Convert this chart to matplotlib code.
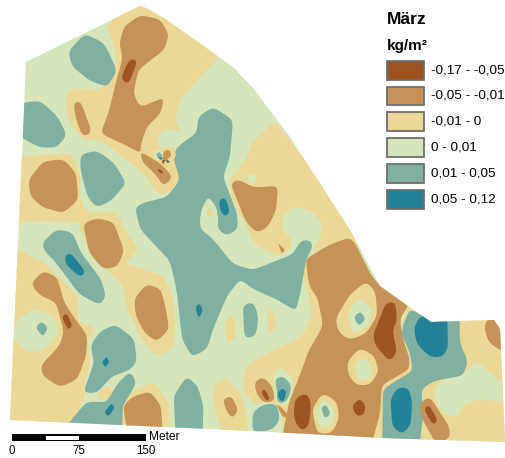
import numpy as np
import matplotlib
matplotlib.use("Agg")
import matplotlib.pyplot as plt
from matplotlib.patches import Polygon, Rectangle

plt.rcParams['font.family'] = ['Liberation Sans', 'DejaVu Sans']

TITLE = "März"
UNIT = "kg/m²"
CLASS_LABELS = ["-0,17 - -0,05", "-0,05 - -0,01", "-0,01 - 0", "0 - 0,01", "0,01 - 0,05", "0,05 - 0,12"]
CLASS_COLORS = ["#9C5520", "#C49355", "#ECD896", "#D6E6BA", "#7FB0A2", "#238295"]
DB, BR, YE, GR, TE, DT = range(6)
SCALE_TICKS = ["0", "75", "150"]
SCALE_UNIT = "Meter"

def a(*p): return np.array(p, float) / 3
def b(*p): return np.array(p, float) / 3 + [0, 229]
def c(*p): return np.array(p, float) / 3 + [253, 229]
def e(*p): return np.array(p, float) / 3 + [210, 110]

FIELD_OUTLINE = [(140, 6), (146, 8), (167, 20), (233, 67), (253, 88), (290, 137), (350, 230), (380, 286),
                 (408, 306), (431, 322), (494, 320), (500, 329), (505, 442), (383, 438), (253, 431),
                 (10, 420), (23, 133), (26, 62)]

REGIONS = [
    # yellow areas
    (YE, a((320,70),(420,5),(500,45),(660,170),(600,230),(540,300),(525,360),(545,395),(490,390),(470,420),(480,450),(530,440),(520,470),(540,540),(500,585),(470,580),(440,530),(370,470),(300,420),(250,420),(210,370),(195,300),(210,265),(300,270),(340,230),(350,170))),
    (YE, a((30,478),(130,465),(215,462),(240,520),(240,600),(265,640),(350,635),(375,690),(230,668),(120,662),(30,670))),
    (YE, b((235,-20),(350,-30),(415,60),(375,105),(490,140),(520,210),(525,300),(520,360),(470,380),(430,340),(380,240),(370,170),(320,120),(265,60))),
    (YE, b((30,50),(100,85),(135,105),(232,200),(235,280),(285,295),(262,340),(270,400),(250,480),(255,515),(200,610),(0,610),(0,300))),
    (GR, b((45,280),(100,240),(160,260),(175,310),(140,360),(80,370),(42,330))),
    (YE, b((355,520),(390,490),(460,460),(505,520),(510,620),(370,620))),
    (YE, b((640,470),(680,445),(730,510),(745,620),(670,620),(640,520))),
    (YE, b((675,270),(705,265),(705,330),(680,340))),
    (YE, e((195,35),(300,170),(420,340),(480,420),(380,395),(300,430),(330,385),(340,340),(300,300),(250,290),(220,310),(215,360),(245,385),(240,420),(200,440),(130,395),(100,330),(65,260),(60,205),(105,155),(130,95))),
    (GR, e((110,195),(130,190),(140,210),(125,225))),
    (YE, c((158,85),(148,130),(165,190),(178,260),(150,320),(70,360),(0,395),(-25,420),(-30,500),(60,525),(75,610),(95,620),(200,500),(250,250),(220,100))),
    (YE, c((40,250),(60,245),(70,290),(50,315))),
    (YE, c((620,265),(722,262),(760,300),(770,650),(500,650),(505,480))),
    # brown areas
    (BR, a((358,130),(372,80),(420,46),(480,58),(507,105),(492,150),(440,190),(415,210),(400,280),(420,322),(492,292),(482,340),(440,380),(420,440),(425,460),(370,432),(302,400),(325,340),(350,240),(368,175))),
    (BR, a((420,455),(480,490),(518,530),(490,558),(465,520),(430,490))),
    (BR, a((220,310),(240,302),(275,395),(250,410),(232,370))),
    (BR, a((86,540),(130,485),(190,478),(228,520),(234,600),(190,638),(130,622),(92,590))),
    (BR, b((250,-15),(290,-32),(340,-20),(372,65),(352,112),(310,120),(268,70))),
    (BR, b((92,165),(130,126),(172,145),(192,220),(218,260),(262,320),(258,380),(232,450),(180,474),(128,440),(122,410),(178,350),(192,310),(168,220),(120,200))),
    (BR, b((403,210),(440,166),(482,180),(497,240),(507,300),(470,337),(435,312),(408,260))),
    (BR, b((370,530),(400,503),(450,488),(482,530),(487,610),(383,610))),
    (BR, b((670,510),(695,503),(714,545),(695,567),(678,540))),
    (BR, e((62,220),(85,208),(130,233),(203,228),(198,300),(172,352),(140,368),(108,335))),
    (BR, e((205,400),(225,420),(215,430))),
    (BR, c((158,90),(225,50),(290,25),(305,40),(355,140),(380,170),(470,225),(440,270),(450,330),(470,390),(470,425),(390,465),(385,500),(380,560),(360,640),(85,640),(108,520),(140,440),(165,370),(210,290),(195,210),(168,170))),
    # yellow and green islands in the brown
    (YE, c((248,270),(290,198),(340,158),(367,190),(372,260),(340,312),(290,332),(258,310))),
    (GR, c((283,250),(320,205),(357,240),(347,290),(300,312))),
    (TE, c((303,265),(322,248),(337,270),(318,290))),
    (YE, c((283,400),(320,358),(362,380),(377,425),(350,467),(310,467),(288,440))),
    (GR, c((303,415),(330,383),(360,420),(347,452),(315,452))),
    (YE, c((178,540),(210,493),(252,520),(257,570),(235,612),(193,612))),
    (GR, c((188,550),(215,508),(247,550),(232,592),(205,597))),
    (TE, c((205,535),(220,528),(232,555),(215,567))),
    (DB, c((360,320),(400,220),(427,220),(432,280),(417,300),(432,370),(410,397),(368,350))),
    (DB, c((126,510),(160,493),(174,520),(167,590),(145,605),(123,570))),
    (DB, c((298,530),(320,510),(337,530),(332,557),(310,560))),
    # right-hand part
    (YE, c((445,300),(465,225),(520,260),(640,400),(500,650),(355,650),(385,540),(385,470),(470,420),(470,380),(455,335))),
    (GR, c((540,480),(570,450),(640,430),(670,395),(720,440),(760,470),(760,520),(680,510),(625,530),(620,560),(585,565),(555,530))),
    (TE, c((450,290),(470,240),(490,250),(535,270),(620,265),(620,340),(645,400),(630,440),(545,455),(505,480),(510,560),(500,650),(388,650),(390,480),(480,425),(470,370),(445,315))),
    (DT, c((483,300),(500,262),(535,262),(582,262),(584,360),(565,385),(530,382),(493,345))),
    (DT, c((413,510),(435,476),(467,478),(477,520),(472,590),(445,615),(418,590))),
    (BR, c((693,290),(715,262),(750,285),(750,367),(708,340))),
    (BR, c((498,525),(530,503),(547,530),(587,590),(592,625),(550,645),(508,570))),
    (DB, c((513,540),(528,528),(554,575),(540,587))),
    # central teal
    (TE, [(198,117),(213,107),(233,120),(230,157),(223,177),(237,213),(238,229),(227,236),(218,230),(216,210),(208,197),(200,215),(200,229),(213,239),(233,264),(253,270),(293,254),(301,240),(311,240),(313,247),(306,259),(301,289),(296,311),(276,299),(253,289),(240,279),(227,296),(213,329),(207,349),(192,357),(182,339),(177,292),(170,261),(140,229),(135,207),(143,203),(167,197),(180,180),(173,157),(177,147),(197,133)]),
    (GR, a((600,640),(625,590),(650,625),(655,680),(625,690))),
    (YE, a((620,625),(635,630),(635,650),(622,645))),
    (DT, e((28,270),(45,263),(59,305),(45,320),(31,300))),
    (DT, b((586,235),(598,223),(608,245),(597,267))),
    (TE, c((0,220),(15,260),(10,310),(0,325),(-25,325),(-30,230))),
    # left teal areas
    (TE, a((205,155),(255,102),(312,130),(350,210),(322,260),(270,242),(218,200))),
    (TE, a((60,310),(120,303),(172,350),(200,405),(170,442),(120,442),(60,410))),
    (TE, a((242,465),(290,452),(342,490),(378,550),(332,602),(290,622),(263,590),(242,510))),
    (TE, b((127,40),(170,2),(217,10),(242,70),(302,150),(318,200),(300,228),(240,197),(208,155),(165,97),(132,65))),
    (DT, b((193,85),(210,70),(257,130),(240,144),(198,105))),
    (DB, b((186,265),(200,253),(217,290),(205,302))),
    (DB, a((363,235),(390,176),(412,182),(385,252))),
    (TE, b((108,295),(125,278),(144,297),(128,322))),
    (TE, b((272,350),(300,308),(345,287),(402,330),(410,400),(390,422),(335,442),(290,492),(250,490),(283,400))),
    (DT, b((306,400),(320,383),(327,400),(315,414))),
    (TE, b((200,590),(260,518),(320,520),(355,460),(390,428),(410,460),(387,500),(367,530),(367,610),(300,610))),
    (DT, b((313,550),(335,523),(344,535),(325,562))),
    (YE, b((288,500),(320,468),(337,490),(315,517))),
    (TE, b((522,500),(560,443),(592,470),(610,530),(607,620),(527,620))),
    # central clover-shaped spots
    (GR, a((475,400),(510,385),(545,395),(520,430),(480,430))),
    (YE, a((480,445),(515,440),(530,465),(510,490),(480,480))),
    (BR, a((490,455),(505,448),(515,465),(500,480),(490,490))),
    (GR, a((462,455),(480,445),(490,465),(480,482),(465,475))),
    (TE, a((468,465),(478,455),(487,470),(480,478))),
    (DB, a((485,482),(494,478),(490,495))),
    (DT, a((498,478),(510,485),(502,490))),
    (DT, a((475,472),(490,474),(482,480))),
    (DB, a((472,510),(480,507),(490,518),(483,520))),
    # lower clover
    (YE, c((-25,420),(0,395),(60,430),(70,515),(0,525),(-20,480))),
    (GR, c((60,430),(90,415),(120,450),(120,490),(100,530),(70,520))),
    (TE, c((65,450),(90,442),(115,470),(105,510),(85,525),(70,515),(75,490))),
    (DT, c((75,490),(90,478),(100,490),(90,518),(78,510))),
    (BR, c((5,460),(30,445),(55,470),(65,515),(30,520),(10,490))),
    (DB, c((25,490),(35,480),(50,510),(40,515))),
    (GR, c((-15,530),(60,520),(80,535),(92,610),(-15,615))),
    (TE, c((0,550),(30,528),(70,525),(80,570),(60,600),(0,610))),
    (BR, c((70,525),(90,540),(110,565),(90,565))),
]


def rounded(points, sigma=4.0):
    """Round a closed outline: resample by arc length, then smooth circularly."""
    p = np.asarray(points, float)
    closed = np.vstack([p, p[:1]])
    d = np.r_[0, np.cumsum(np.hypot(*np.diff(closed, axis=0).T))]
    n = max(int(d[-1] * 2), 32)
    s = np.linspace(0, d[-1], n, endpoint=False)
    q = np.c_[np.interp(s, d, closed[:, 0]), np.interp(s, d, closed[:, 1])]
    sig = min(sigma, d[-1] / 16) * n / d[-1]
    k = np.fft.fftfreq(n)
    g = np.exp(-2 * (np.pi * k * sig) ** 2)
    r = np.c_[np.fft.ifft(np.fft.fft(q[:, 0]) * g).real,
              np.fft.ifft(np.fft.fft(q[:, 1]) * g).real]
    # compensate the slight shrinkage of the smoothing
    mid = q.mean(axis=0)
    spread = np.hypot(*(q - mid).T).mean() / max(np.hypot(*(r - mid).T).mean(), 1e-6)
    return mid + (r - mid) * spread


fig = plt.figure(figsize=(5.06, 4.58), dpi=100)
ax = fig.add_axes([0, 0, 1, 1])
ax.set_xlim(0, 506)
ax.set_ylim(458, 0)
ax.axis("off")

field = Polygon(FIELD_OUTLINE, closed=True, facecolor=CLASS_COLORS[GR], edgecolor="none", zorder=1)
ax.add_patch(field)
for cls, pts in REGIONS:
    s = Polygon(rounded(pts), closed=True, facecolor=CLASS_COLORS[cls], edgecolor="none", zorder=2)
    ax.add_patch(s)
    s.set_clip_path(field)

# legend
ax.text(387, 20, TITLE, fontsize=12.5, fontweight="bold", va="center", ha="left", color="black")
ax.text(387, 46, UNIT, fontsize=11, fontweight="bold", va="center", ha="left", color="black")
tops = [61, 86.5, 112, 138, 164, 190]
for top, col, lab in zip(tops, CLASS_COLORS, CLASS_LABELS):
    ax.add_patch(Rectangle((387, top), 37.5, 18.5, facecolor=col, edgecolor="#6E6E6E", lw=1.3, zorder=3))
    ax.text(431, top + 9.5, lab, fontsize=9.7, va="center", ha="left", color="black")

# scale bar
ax.add_patch(Rectangle((12, 434), 134, 7, facecolor="black", edgecolor="none", zorder=3))
ax.add_patch(Rectangle((46, 435.5), 33, 4.5, facecolor="white", edgecolor="none", zorder=4))
ax.text(149, 437.5, SCALE_UNIT, fontsize=8.6, va="center", ha="left", color="black")
for x, lab in zip([12, 79, 146], SCALE_TICKS):
    ax.text(x, 451.5, lab, fontsize=8.3, va="center", ha="center", color="black")

fig.savefig("out.png", dpi=100)
